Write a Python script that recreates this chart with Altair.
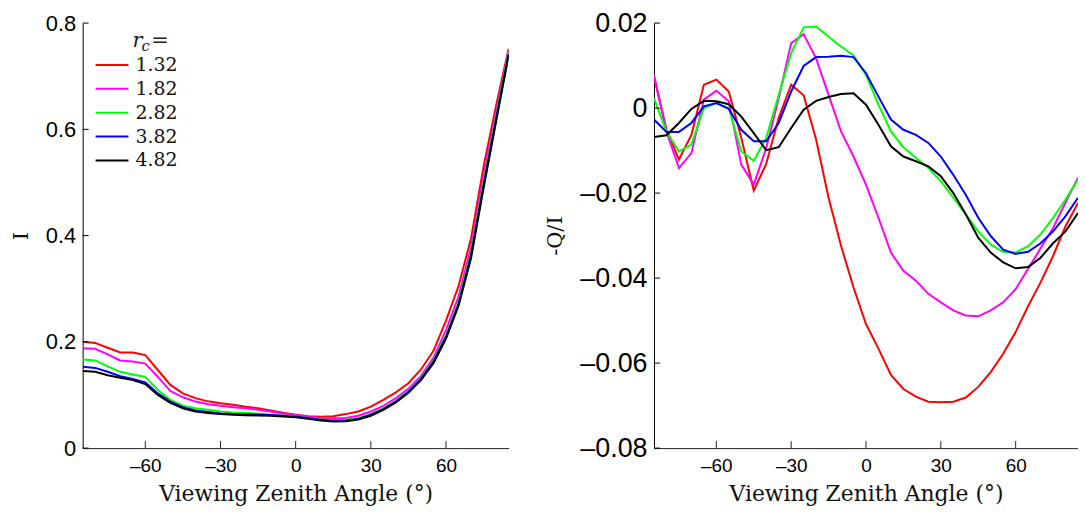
import altair as alt
import pandas as pd

angles = list(range(-85, 90, 5))
series = ["1.32", "1.82", "2.82", "3.82", "4.82"]
colors = ["#ff0000", "#ff00ff", "#00ff00", "#0000ff", "#000000"]

I_132 = [0.200, 0.198, 0.189, 0.180, 0.180, 0.175, 0.147, 0.119, 0.103, 0.094, 0.088, 0.0845, 0.0815, 0.078, 0.075, 0.071, 0.0666,
         0.0628, 0.060, 0.059, 0.060, 0.064, 0.069, 0.078, 0.091, 0.105, 0.122, 0.148, 0.183, 0.240, 0.305, 0.395, 0.53, 0.645, 0.752]
I_182 = [0.188, 0.187, 0.1766, 0.165, 0.163, 0.159, 0.134, 0.1076, 0.0957, 0.0876, 0.0827, 0.0796, 0.077, 0.075, 0.072, 0.069, 0.065,
         0.062, 0.059, 0.0566, 0.056, 0.0566, 0.061, 0.069, 0.0796, 0.094, 0.112, 0.136, 0.170, 0.222, 0.285, 0.378, 0.512, 0.632, 0.748]
I_282 = [0.1666, 0.165, 0.154, 0.1436, 0.1386, 0.134, 0.1094, 0.0908, 0.080, 0.075, 0.072, 0.069, 0.067, 0.066, 0.065, 0.063, 0.061,
         0.059, 0.0566, 0.054, 0.053, 0.0535, 0.0566, 0.064, 0.075, 0.089, 0.1076, 0.132, 0.165, 0.212, 0.275, 0.368, 0.50, 0.625, 0.745]
I_382 = [0.153, 0.151, 0.1436, 0.1355, 0.130, 0.1237, 0.103, 0.0876, 0.077, 0.0709, 0.068, 0.065, 0.064, 0.0634, 0.063, 0.0622, 0.061,
         0.059, 0.0566, 0.0535, 0.0516, 0.052, 0.055, 0.063, 0.0734, 0.0876, 0.106, 0.130, 0.163, 0.209, 0.271, 0.363, 0.495, 0.620, 0.742]
I_482 = [0.145, 0.1436, 0.137, 0.1324, 0.128, 0.1206, 0.100, 0.085, 0.075, 0.069, 0.066, 0.064, 0.063, 0.062, 0.0615, 0.061, 0.0597,
         0.058, 0.055, 0.052, 0.050, 0.0505, 0.054, 0.061, 0.072, 0.086, 0.104, 0.128, 0.160, 0.206, 0.268, 0.358, 0.490, 0.615, 0.740]

Q_132 = [0.0074, -0.005, -0.0121, -0.0063, 0.0055, 0.0067, 0.0039, -0.007, -0.0194, -0.0131, -0.0023, 0.0055, 0.003, -0.0074, -0.0211,
         -0.0324, -0.0422, -0.0508, -0.0566, -0.0628, -0.0661, -0.0679, -0.0691, -0.0692, -0.0691, -0.0681, -0.0656, -0.0621, -0.0578,
         -0.0527, -0.0466, -0.041, -0.0348, -0.0278, -0.0223]
Q_182 = [0.0078, -0.0055, -0.0141, -0.0106, 0.002, 0.0041, 0.0016, -0.0133, -0.018, -0.0094, 0.0023, 0.0153, 0.0174, 0.0117, 0.0031,
         -0.0055, -0.0114, -0.018, -0.0258, -0.034, -0.0383, -0.0406, -0.0437, -0.0457, -0.0476, -0.0488, -0.049, -0.0476, -0.0457,
         -0.0426, -0.0378, -0.0330, -0.0282, -0.0222, -0.0164]
Q_282 = [0.0023, -0.0055, -0.0102, -0.0086, 0.0, 0.0012, 0.0, -0.0102, -0.0124, -0.007, 0.0031, 0.0129, 0.019, 0.0192, 0.0168, 0.0145,
         0.0124, 0.0078, 0.0008, -0.0055, -0.0092, -0.0117, -0.0141, -0.0172, -0.0211, -0.025, -0.029, -0.0321, -0.0338, -0.0340,
         -0.0325, -0.0297, -0.0258, -0.0215, -0.0168]
Q_382 = [-0.0027, -0.0056, -0.0056, -0.0035, 0.0004, 0.0012, -0.0002, -0.0051, -0.0078, -0.0078, -0.0035, 0.0039, 0.0099, 0.012, 0.0121,
         0.0123, 0.012, 0.0082, 0.0027, -0.0027, -0.0051, -0.0063, -0.0082, -0.0114, -0.0157, -0.0204, -0.0258, -0.0301, -0.0333,
         -0.0343, -0.0338, -0.0318, -0.029, -0.0254, -0.0211]
Q_482 = [-0.0068, -0.0064, -0.0035, -0.0002, 0.0017, 0.0016, 0.0009, -0.002, -0.0059, -0.0099, -0.0092, -0.0047, -0.0004, 0.0017, 0.0026,
         0.0033, 0.0035, 0.0008, -0.0039, -0.009, -0.0114, -0.0125, -0.0137, -0.016, -0.02, -0.025, -0.0305, -0.034, -0.0363, -0.0377,
         -0.0374, -0.0352, -0.0318, -0.029, -0.0247]

x_ticks = [-60, -30, 0, 30, 60]
i_ticks = [0, 0.2, 0.4, 0.6, 0.8]
q_ticks = [-0.08, -0.06, -0.04, -0.02, 0, 0.02]
x_title = "Viewing Zenith Angle (°)"
legend_title = ["r", "c", "="]

SANS = "Liberation Sans"
SERIF = "DejaVu Serif"


def long_df(cols):
    rows = []
    for name, vals in zip(series, cols):
        for a, v in zip(angles, vals):
            rows.append({"angle": a, "val": v, "rc": name})
    return pd.DataFrame(rows)


df_i = long_df([I_132, I_182, I_282, I_382, I_482])
df_q = long_df([Q_132, Q_182, Q_282, Q_382, Q_482])

xs = alt.Scale(domain=[-85, 85], nice=False, zero=False)
color_scale = alt.Scale(domain=series, range=colors)


def panel(df, ydomain, yticks, ytitle, w, h, yexpr, ylabsize, ytitlepad):
    ys = alt.Scale(domain=ydomain, nice=False, zero=False)
    xaxis = alt.Axis(values=x_ticks, ticks=False, grid=False, labelFont=SANS, labelFontSize=19,
                     labelColor="black", labelPadding=9, domainColor="#222", domainWidth=1,
                     title=x_title, titleFont=SERIF, titleFontWeight="normal", titleFontSize=22,
                     titleColor="#111", titlePadding=8,
                     labelExpr="replace(format(datum.value, 'd'), '\u2212', '\u2013')")
    yaxis = alt.Axis(values=yticks, ticks=False, grid=False, labelFont=SANS, labelFontSize=ylabsize,
                     labelColor="black", labelPadding=7, domainColor="black", domainWidth=1,
                     title=ytitle, titleFont=SERIF, titleFontWeight="normal", titleFontSize=21,
                     titleColor="#111", titlePadding=ytitlepad, labelExpr=yexpr)
    lines = alt.Chart(df).mark_line(strokeWidth=2, clip=True).encode(
        x=alt.X("angle:Q", scale=xs, axis=xaxis),
        y=alt.Y("val:Q", scale=ys, axis=yaxis),
        color=alt.Color("rc:N", scale=color_scale, legend=None),
    )
    xt = alt.Chart(pd.DataFrame({"angle": x_ticks})).mark_rule(color="#222", strokeWidth=1).encode(
        x=alt.X("angle:Q", scale=xs, axis=xaxis), y=alt.value(h), y2=alt.value(h - 7))
    yt = alt.Chart(pd.DataFrame({"val": yticks})).mark_rule(color="black", strokeWidth=1).encode(
        y=alt.Y("val:Q", scale=ys, axis=yaxis), x=alt.value(0), x2=alt.value(6))
    return alt.layer(lines, xt, yt).properties(width=w, height=h)


left = panel(df_i, [0, 0.8], i_ticks, "I", 428, 427,
             "datum.value == 0 ? '0' : format(datum.value, '.1f')", 22, 14)

# hand-made legend (inside the left panel)
leg_df = pd.DataFrame({"rc": series, "i": list(range(len(series)))})
leg_base = alt.Chart(leg_df).transform_calculate(ly="42 + 24 * datum.i")
leg_lines = leg_base.mark_rule(strokeWidth=2).encode(
    y=alt.Y("ly:Q", scale=None), x=alt.value(13), x2=alt.value(46),
    color=alt.Color("rc:N", scale=color_scale, legend=None))
leg_text = leg_base.mark_text(font=SERIF, fontSize=19, align="left", baseline="middle", color="#111").encode(
    y=alt.Y("ly:Q", scale=None), x=alt.value(53), text="rc:N")

t_r = alt.Chart(alt.Data(values=[{"s": legend_title[0]}])).mark_text(
    font=SERIF, fontStyle="italic", fontSize=21, align="left", baseline="alphabetic", color="#222"
).encode(text="s:N", x=alt.value(50), y=alt.value(24))
t_c = alt.Chart(alt.Data(values=[{"s": legend_title[1]}])).mark_text(
    font=SERIF, fontStyle="italic", fontSize=15, align="left", baseline="alphabetic", color="#222"
).encode(text="s:N", x=alt.value(59), y=alt.value(28))
t_eq = alt.Chart(alt.Data(values=[{"s": legend_title[2]}])).mark_text(
    font=SERIF, fontSize=21, align="left", baseline="alphabetic", color="#222"
).encode(text="s:N", x=alt.value(69), y=alt.value(24))

left = alt.layer(left, leg_lines, leg_text, t_r, t_eq, t_c)

right = panel(df_q, [-0.08, 0.02], q_ticks, "-Q/I", 426, 427,
              "datum.value == 0 ? '0' : replace(format(datum.value, '.2f'), '\u2212', '\u2013')", 27, 14)

chart = alt.hconcat(left, right, spacing=36).properties(
    padding={"left": 2, "top": 0, "right": 0, "bottom": 0}
).configure(background="white").configure_view(stroke=None)

chart.save("out.html", embed_options={"renderer": "svg", "actions": False})
